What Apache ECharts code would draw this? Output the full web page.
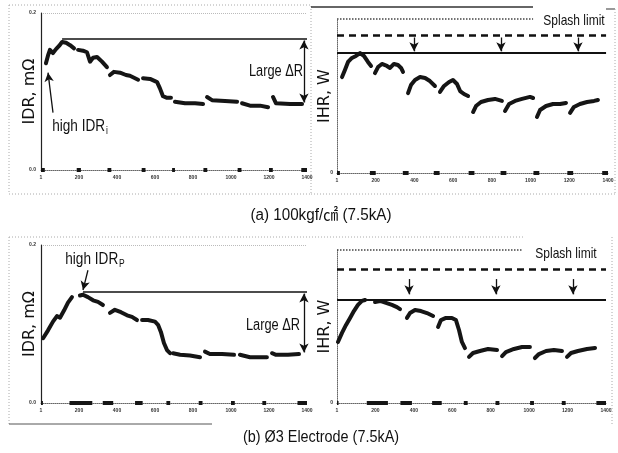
<!DOCTYPE html>
<html><head><meta charset="utf-8">
<script src="https://cdn.jsdelivr.net/npm/echarts@6/dist/echarts.min.js"></script>
<style>html,body{margin:0;padding:0;background:#fff}#c{width:618px;height:453px}</style>
</head><body><div id="c"></div>
<script>
// ---------- tick labels ----------
const xTickLabels = ['1','200','400','600','800','1000','1200','1400'];
const idrTickLabels = ['0.0','0.2'];
const ihrTickLabels = ['0',''];

// ---------- (a) 100kgf/cm2 : IDR (mOhm) segments ----------
const idrA = [
  [[26,0.136],[37,0.146],[47,0.153],[63,0.149],[79,0.154],[95,0.158],[111,0.163],[132,0.162],[153,0.159],[174,0.155]],
  [[195,0.153],[221,0.152],[242,0.150],[258,0.138],[274,0.143],[295,0.144],[321,0.138],[347,0.131]],
  [[363,0.121],[384,0.125],[416,0.124],[447,0.121],[468,0.120],[511,0.115]],
  [[537,0.117],[574,0.116],[611,0.112],[626,0.104],[642,0.094],[663,0.092],[684,0.092]],
  [[705,0.087],[758,0.085],[811,0.085],[853,0.084]],
  [[874,0.093],[900,0.089],[968,0.088],[1032,0.087]],
  [[1058,0.085],[1100,0.082],[1153,0.082],[1195,0.080]],
  [[1221,0.093],[1237,0.085],[1311,0.084],[1374,0.084]]
];
// ---------- (a) IHR (W, relative scale) segments ----------
const ihrA = [
  [[26,62.3],[41,66.9],[57,72.1],[77,74.7],[98,76.0],[119,77.9],[139,76.0],[160,72.1],[176,69.5]],
  [[196,64.9],[212,68.8],[232,70.8],[258,69.5],[274,68.2],[294,70.8],[315,70.1],[331,68.2],[341,65.6]],
  [[367,51.9],[382,57.1],[403,60.4],[429,62.3],[455,61.7],[480,59.7],[506,56.5]],
  [[532,52.6],[553,56.5],[579,59.1],[599,60.4],[620,57.8],[636,53.2],[656,51.3],[677,50.0]],
  [[703,39.6],[718,43.5],[744,46.1],[780,47.4],[816,48.1],[852,46.8]],
  [[868,40.3],[889,44.8],[920,46.8],[956,48.1],[997,49.4],[1013,48.7]],
  [[1033,36.4],[1049,40.9],[1080,43.5],[1116,44.8],[1152,44.8],[1183,45.5]],
  [[1204,39.0],[1224,42.9],[1255,44.8],[1292,46.1],[1328,46.8],[1348,47.4]]
];
// ---------- (b) Ø3 electrode : IDR segments ----------
const idrB = [
  [[11,0.082],[37,0.092],[63,0.103],[84,0.110],[100,0.108],[121,0.117],[142,0.127],[163,0.134]],
  [[205,0.136],[221,0.137],[247,0.134],[274,0.130],[300,0.128],[326,0.124]],
  [[363,0.114],[389,0.118],[421,0.115],[453,0.111],[479,0.109],[505,0.105]],
  [[532,0.105],[563,0.105],[600,0.103],[616,0.099],[631,0.090],[647,0.076],[663,0.067],[679,0.063]],
  [[695,0.063],[732,0.061],[784,0.060],[837,0.058]],
  [[863,0.065],[889,0.062],[953,0.062],[1016,0.061]],
  [[1047,0.061],[1100,0.058],[1153,0.058],[1189,0.058]],
  [[1216,0.063],[1237,0.061],[1300,0.061],[1358,0.062]]
];
// ---------- (b) IHR segments ----------
const ihrB = [
  [[5,39.9],[26,45.8],[47,51.0],[68,55.6],[88,60.1],[109,64.1],[130,66.7],[146,67.3]],
  [[198,66.0],[224,66.7],[255,65.4],[286,64.1],[312,62.7],[328,61.4]],
  [[364,55.6],[380,58.8],[406,60.8],[437,60.1],[468,58.8],[500,56.9]],
  [[526,49.7],[541,54.2],[567,55.6],[598,55.6],[619,54.2],[635,47.7],[650,39.9],[666,35.9]],
  [[687,30.1],[708,32.7],[744,34.0],[786,35.3],[833,34.6]],
  [[859,30.7],[879,33.3],[921,35.3],[963,36.6],[1004,36.6]],
  [[1030,29.4],[1051,32.0],[1088,34.0],[1129,34.6],[1171,34.0]],
  [[1197,30.1],[1218,32.7],[1254,34.0],[1301,35.3],[1343,35.9]]
];
// ---------- zero-level blobs (x ranges) ----------
const zeroAL = [[0,20],[188,210],[350,370],[530,550],[690,705],[855,875],[1035,1055],[1200,1220],[1370,1400]];
const zeroAR = [[0,15],[170,200],[340,370],[500,530],[680,710],[845,875],[1015,1045],[1190,1220],[1370,1400]];
const zeroBL = [[0,10],[150,270],[325,380],[495,535],[660,680],[830,850],[1000,1020],[1165,1185],[1350,1400]];
const zeroBR = [[0,8],[155,265],[330,390],[495,545],[660,680],[825,845],[1005,1025],[1170,1190],[1350,1400]];

// ---------- reference levels ----------
const refA_idr = {peakX:111, peak:0.167, low:0.085, arrowX:1384, noteFrom:[63,0.073], noteTo:[37,0.124]};
const refB_idr = {peakX:221, peak:0.1405, low:0.063, arrowX:1384, noteFrom:[247,0.168], noteTo:[221,0.143]};
const refA_ihr = {splash:100, splashEnd:1013, dashed:89.6, solid:77.9, lineEnd:1390, arrows:[398,847,1245], arrowTop:88, arrowBot:79};
const refB_ihr = {splash:100, splashEnd:968, dashed:87.6, solid:67.3, lineEnd:1400, arrows:[375,827,1228], arrowTop:81, arrowBot:71};

const NARROW = "'Liberation Sans','Noto Sans CJK KR',sans-serif";
const AXF = "'DejaVu Sans',sans-serif";

function joinSegs(segs){
  const out=[];
  segs.forEach((s,i)=>{
    if(i){ const p=segs[i-1][segs[i-1].length-1]; out.push([(p[0]+s[0][0])/2,'-']); }
    s.forEach(p=>out.push(p));
  });
  return out;
}
function zeroSegs(r){ return joinSegs(r.map(([a,b])=>[[a,0],[b,0]])); }

function xAxisDef(gi){
  return {gridIndex:gi, type:'value', min:0, max:1400, interval:200,
    axisLine:{lineStyle:{color:'#666', type:'dotted', width:1}},
    axisTick:{show:false}, splitLine:{show:false},
    axisLabel:{fontSize:5, color:'#333', margin:5, fontWeight:'bold', formatter:(v,i)=>xTickLabels[i]}};
}
function yIdr(gi){
  return {gridIndex:gi, type:'value', min:0, max:0.2, interval:0.2,
    name:'IDR, mΩ', nameLocation:'middle', nameGap:3, nameMoveOverlap:false,
    nameTextStyle:{fontSize:16, fontFamily:AXF, color:'#111'},
    axisLine:{show:true, lineStyle:{color:'#222', width:1.2}},
    axisTick:{show:false},
    splitLine:{show:true, lineStyle:{color:'#bbb', type:'dotted'}},
    axisLabel:{fontSize:5, color:'#333', margin:5, fontWeight:'bold', formatter:(v,i)=>idrTickLabels[i]}};
}
function yIhr(gi){
  return {gridIndex:gi, type:'value', min:0, max:100, interval:100,
    name:'IHR, W', nameLocation:'middle', nameGap:4, nameMoveOverlap:false,
    nameTextStyle:{fontSize:16, fontFamily:AXF, color:'#111'},
    axisLine:{show:true, lineStyle:{color:'#666', width:1, type:'dotted'}},
    axisTick:{show:false}, splitLine:{show:false},
    axisLabel:{fontSize:5, color:'#333', margin:4, fontWeight:'bold', formatter:(v,i)=>ihrTickLabels[i]}};
}
const curveStyle = {color:'#151515', width:4, join:'round', cap:'round'};
function curveSeries(gi, segs){
  return {type:'line', xAxisIndex:gi, yAxisIndex:gi, data:joinSegs(segs), showSymbol:false,
    symbol:'none', lineStyle:curveStyle, connectNulls:false, z:3, silent:true};
}
function zeroSeries(gi, r){
  return {type:'line', xAxisIndex:gi, yAxisIndex:gi, data:zeroSegs(r), symbol:'none',
    lineStyle:{color:'#151515', width:4}, connectNulls:false, z:4, silent:true};
}
function pt(c, sym){ return {coord:c, symbol:sym||'none', symbolSize:sym?[7,9]:0}; }
function idrMarks(r){
  return {silent:true, label:{show:false}, symbol:['none','none'], data:[
    [pt([r.peakX,r.peak]),{coord:[1400,r.peak],symbol:'none', lineStyle:{color:'#111',width:1.6,type:'solid'}}],
    [pt([r.arrowX,r.peak-0.002],'arrow'),Object.assign(pt([r.arrowX,r.low+0.001],'arrow'),{lineStyle:{color:'#111',width:1.3,type:'solid'}})],
    [pt(r.noteFrom),Object.assign(pt(r.noteTo,'arrow'),{lineStyle:{color:'#111',width:1.3,type:'solid'}})]
  ]};
}
function ihrMarks(r){
  const d = [
    [pt([0,r.splash]),{coord:[r.splashEnd,r.splash],symbol:'none',lineStyle:{color:'#444',width:1.5,type:'dotted'}}],
    [pt([0,r.dashed]),{coord:[r.lineEnd,r.dashed],symbol:'none',lineStyle:{color:'#111',width:2.6,type:[7,5]}}],
    [pt([0,r.solid]),{coord:[r.lineEnd,r.solid],symbol:'none',lineStyle:{color:'#111',width:2,type:'solid'}}]
  ];
  r.arrows.forEach(x=>d.push([pt([x,r.arrowTop]),Object.assign(pt([x,r.arrowBot],'arrow'),{lineStyle:{color:'#111',width:1.3,type:'solid'}})]));
  return {silent:true, label:{show:false}, symbol:['none','none'], data:d};
}

const grids = [
  {left:41, top:13, width:266, height:157},
  {left:337, top:19, width:271, height:154},
  {left:41, top:245, width:266, height:158},
  {left:337, top:250, width:269, height:153}
];

const sA = curveSeries(0, idrA); sA.markLine = idrMarks(refA_idr);
const sB = curveSeries(1, ihrA); sB.markLine = ihrMarks(refA_ihr);
const sC = curveSeries(2, idrB); sC.markLine = idrMarks(refB_idr);
const sD = curveSeries(3, ihrB); sD.markLine = ihrMarks(refB_ihr);

function txt(x,y,text,size,sx){
  return {type:'text', x:x, y:y, scaleX:sx||1, silent:true, z:10,
    style:{text:text, fontSize:size, fontFamily:NARROW, fill:'#111', align:'center', verticalAlign:'middle'}};
}
function sub(x,y,main,s,sx){
  return {type:'text', x:x, y:y, scaleX:sx||1, z:10, silent:true, style:{
    text:'{a|'+main+'}{s|'+s+'}', align:'center', verticalAlign:'middle', fill:'#111',
    rich:{a:{fontSize:16, fontFamily:NARROW, fill:'#111'}, s:{fontSize:10, fontFamily:NARROW, fill:'#111', padding:[9,0,0,1]}}}};
}
const dotted = {stroke:'#aaa', lineWidth:1, lineDash:[1,2], fill:null};
const graphic = [
  {type:'rect', shape:{x:9,y:5,width:302,height:189}, style:dotted, silent:true},
  {type:'line', shape:{x1:311,y1:7,x2:533,y2:7}, style:{stroke:'#333', lineWidth:1.5}, silent:true},
  {type:'line', shape:{x1:606,y1:9,x2:615,y2:9}, style:{stroke:'#555', lineWidth:1.2}, silent:true},
  {type:'line', shape:{x1:615,y1:9,x2:615,y2:194}, style:dotted, silent:true},
  {type:'line', shape:{x1:311,y1:194,x2:615,y2:194}, style:dotted, silent:true},
  {type:'line', shape:{x1:9,y1:237,x2:523,y2:237}, style:dotted, silent:true},
  {type:'line', shape:{x1:9,y1:237,x2:9,y2:424}, style:dotted, silent:true},
  {type:'line', shape:{x1:612,y1:237,x2:612,y2:424}, style:dotted, silent:true},
  {type:'line', shape:{x1:9,y1:424,x2:212,y2:424}, style:{stroke:'#555', lineWidth:1}, silent:true},
  txt(574,21,'Splash limit',15,0.8),
  txt(566,254,'Splash limit',15,0.8),
  txt(276,72,'Large ΔR',16,0.8),
  txt(273,326,'Large ΔR',16,0.8),
  sub(80,127,'high IDR','i',0.85),
  sub(95,260,'high IDR','P',0.85),
  txt(321,216,'(a) 100kgf/㎠ (7.5kA)',16,0.95),
  txt(321,438,'(b) Ø3 Electrode (7.5kA)',16,0.9)
];

const chart = echarts.init(document.getElementById('c'), null, {renderer:'canvas'});
chart.setOption({
  animation:false,
  backgroundColor:'#fff',
  grid:grids,
  xAxis:[xAxisDef(0),xAxisDef(1),xAxisDef(2),xAxisDef(3)],
  yAxis:[yIdr(0),yIhr(1),yIdr(2),yIhr(3)],
  series:[sA,sB,sC,sD, zeroSeries(0,zeroAL), zeroSeries(1,zeroAR), zeroSeries(2,zeroBL), zeroSeries(3,zeroBR)],
  graphic:graphic
});
</script>
</body></html>
